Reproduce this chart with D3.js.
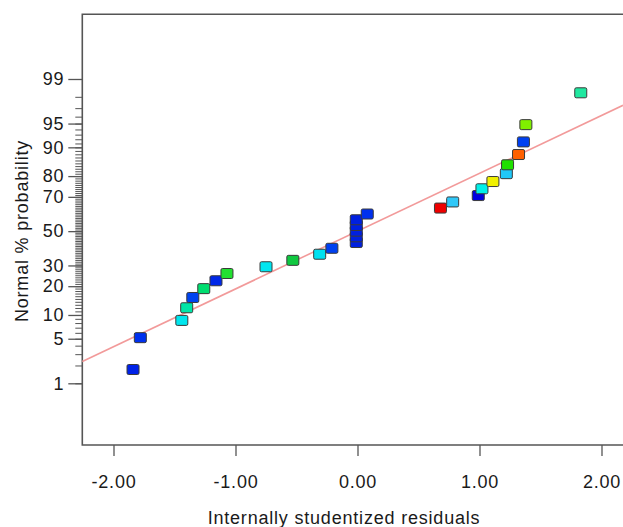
<!DOCTYPE html>
<html>
<head>
<meta charset="utf-8">
<script src="https://cdn.jsdelivr.net/npm/d3@7"></script>
<style>
body { margin: 0; background: #fff; }
svg text { font-family: "Liberation Sans", Arial, Helvetica, sans-serif; fill: #1a1a1a; }
</style>
</head>
<body>
<div id="chart"></div>
<script>
// residuals, in rank order
var residuals = [-1.84, -1.78, -1.44, -1.40, -1.35, -1.26, -1.16, -1.07, -0.75, -0.53,
                 -0.31, -0.21, -0.01, -0.01, -0.01, -0.01, -0.01, 0.08, 0.68, 0.78,
                 0.99, 1.02, 1.11, 1.22, 1.23, 1.32, 1.36, 1.38, 1.83];
// normal % probability of each point
var probs = [1.72, 5.17, 8.62, 12.07, 15.52, 18.97, 22.41, 25.86, 29.31, 32.76,
             36.21, 39.66, 43.10, 46.55, 50.00, 53.45, 56.90, 60.34, 63.79, 67.24,
             70.69, 74.14, 77.59, 81.03, 84.48, 87.93, 91.38, 94.83, 98.28];
var pointColors = ["#0022e8", "#0030ee", "#00e6ee", "#00e6a8", "#0044f0", "#00de70", "#0028e8", "#22e030",
                   "#00e6f0", "#10c840", "#00e0f0", "#0040f0", "#0020e0", "#0020e0", "#0020e0", "#0020e0",
                   "#0020e0", "#0030ee", "#ee0000", "#30c8f8", "#0000e0", "#00f0e8", "#f0f000", "#20c8f8",
                   "#20e000", "#ff6000", "#0040f0", "#80f000", "#20e8a0"];
var yTicks = [1, 5, 10, 20, 30, 50, 70, 80, 90, 95, 99];
var xTicks = [-2, -1, 0, 1, 2];
var xTickLabels = ["-2.00", "-1.00", "0.00", "1.00", "2.00"];
var lineSlope = 0.884; // fitted line, z = slope * residual

var w = 623, h = 527;
var plotLeft = 82.3, plotTop = 14.3, plotBottom = 445, plotRight = 640;

// inverse normal cdf (Acklam)
function probit(p) {
  var a = [-3.969683028665376e+01, 2.209460984245205e+02, -2.759285104469687e+02, 1.383577518672690e+02, -3.066479806614716e+01, 2.506628277459239e+00];
  var b = [-5.447609879822406e+01, 1.615858368580409e+02, -1.556989798598866e+02, 6.680131188771972e+01, -1.328068155288572e+01];
  var c = [-7.784894002430293e-03, -3.223964580411365e-01, -2.400758277161838e+00, -2.549732539343734e+00, 4.374664141464968e+00, 2.938163982698783e+00];
  var d = [7.784695709041462e-03, 3.224671290700398e-01, 2.445134137142996e+00, 3.754408661907416e+00];
  var pl = 0.02425, q, r;
  if (p < pl) {
    q = Math.sqrt(-2 * Math.log(p));
    return (((((c[0]*q+c[1])*q+c[2])*q+c[3])*q+c[4])*q+c[5]) / ((((d[0]*q+d[1])*q+d[2])*q+d[3])*q+1);
  }
  if (p > 1 - pl) {
    q = Math.sqrt(-2 * Math.log(1 - p));
    return -(((((c[0]*q+c[1])*q+c[2])*q+c[3])*q+c[4])*q+c[5]) / ((((d[0]*q+d[1])*q+d[2])*q+d[3])*q+1);
  }
  q = p - 0.5; r = q * q;
  return (((((a[0]*r+a[1])*r+a[2])*r+a[3])*r+a[4])*r+a[5])*q / (((((b[0]*r+b[1])*r+b[2])*r+b[3])*r+b[4])*r+1);
}

var x = d3.scaleLinear().domain([-2, 2]).range([113.5, 601.5]);
var yz = d3.scaleLinear().domain([-2.3263, 2.3263]).range([383.3, 79]);
function y(p) { return yz(probit(p / 100)); }

var svg = d3.select("#chart").append("svg")
    .attr("width", w)
    .attr("height", h);

// minor ticks every percent
svg.append("g")
    .attr("transform", "translate(" + plotLeft + ",0)")
    .call(d3.axisLeft(yz).tickValues(d3.range(1, 100).map(function(p) { return probit(p / 100); }))
      .tickSize(7).tickFormat(""))
    .call(function(g) {
      g.select(".domain").remove();
      g.selectAll("line").attr("stroke", "#555").attr("stroke-width", 1);
    });

// major ticks
svg.append("g")
    .attr("transform", "translate(" + plotLeft + ",0)")
    .call(d3.axisLeft(yz).tickValues(yTicks.map(function(p) { return probit(p / 100); }))
      .tickSize(14).tickPadding(4).tickFormat(function(d, i) { return yTicks[i]; }))
    .call(function(g) {
      g.select(".domain").remove();
      g.selectAll("line").attr("stroke", "#555").attr("stroke-width", 1.3);
      g.selectAll("text").attr("font-size", "18px").style("letter-spacing", "0.8px")
        .attr("font-family", null).attr("fill", null);
    });

svg.append("g")
    .attr("transform", "translate(0," + plotBottom + ")")
    .call(d3.axisBottom(x).tickValues(xTicks).tickSize(11).tickPadding(19)
      .tickFormat(function(d, i) { return xTickLabels[i]; }))
    .call(function(g) {
      g.select(".domain").remove();
      g.selectAll("line").attr("stroke", "#555").attr("stroke-width", 1.3);
      g.selectAll("text").attr("font-size", "18px").style("letter-spacing", "0.8px")
        .attr("font-family", null).attr("fill", null);
    });

// frame
svg.append("path")
    .attr("d", "M" + plotRight + "," + plotTop + "H" + plotLeft + "V" + plotBottom + "H" + plotRight)
    .attr("fill", "none")
    .attr("stroke", "#555")
    .attr("stroke-width", 1.6);

// fitted line
var x0 = x.invert(plotLeft), x1 = x.invert(w);
svg.append("line")
    .attr("x1", x(x0)).attr("y1", yz(lineSlope * x0))
    .attr("x2", x(x1)).attr("y2", yz(lineSlope * x1))
    .attr("stroke", "#f29a9a")
    .attr("stroke-width", 1.6);

// points
svg.append("g").selectAll("rect")
    .data(residuals)
    .enter()
    .append("rect")
    .attr("x", function(d) { return x(d) - 6; })
    .attr("y", function(d, i) { return y(probs[i]) - 5; })
    .attr("width", 12)
    .attr("height", 10)
    .attr("rx", 1.5)
    .attr("fill", function(d, i) { return pointColors[i]; })
    .attr("stroke", "#3a3a3a")
    .attr("stroke-width", 1);

svg.append("text")
    .attr("x", 344)
    .attr("y", 524)
    .attr("text-anchor", "middle")
    .attr("font-size", "18px")
    .style("letter-spacing", "0.8px")
    .text("Internally studentized residuals");

svg.append("text")
    .attr("transform", "translate(28,231) rotate(-90)")
    .attr("text-anchor", "middle")
    .attr("font-size", "18px")
    .style("letter-spacing", "0.8px")
    .text("Normal % probability");
</script>
</body>
</html>
